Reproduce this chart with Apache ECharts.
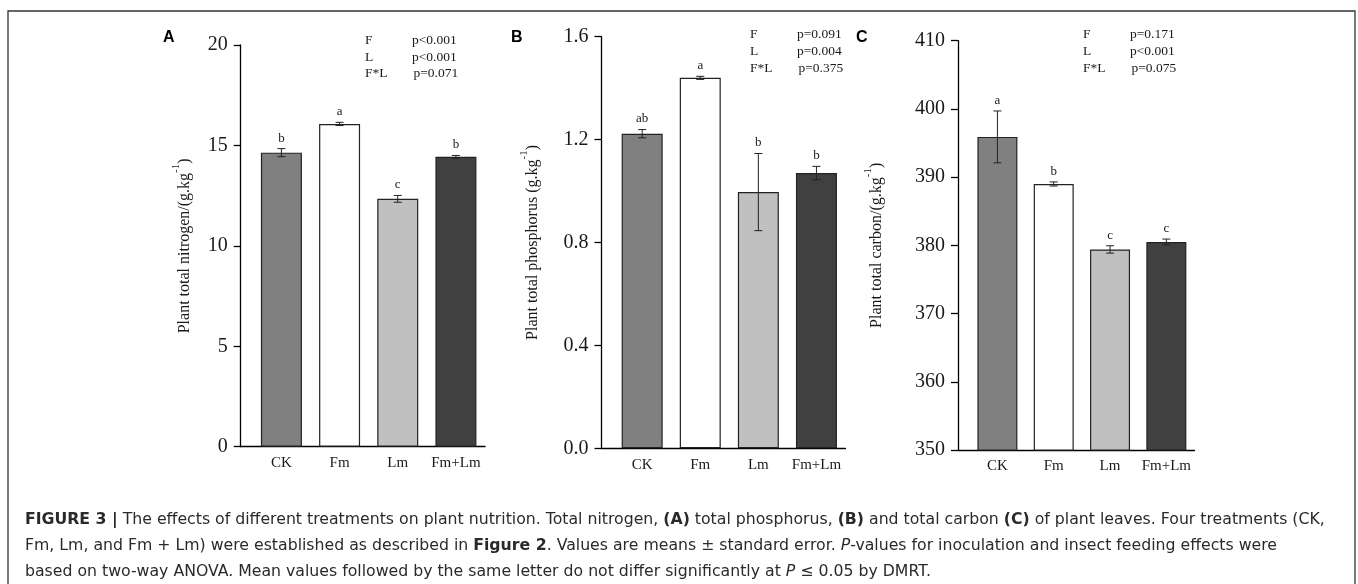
<!DOCTYPE html>
<html>
<head>
<meta charset="utf-8">
<script src="https://cdn.jsdelivr.net/npm/echarts@6/dist/echarts.min.js"></script>
<style>
html,body{margin:0;padding:0;background:#fff;}
#chart{width:1358px;height:584px;}
</style>
</head>
<body>
<div id="chart"></div>
<script>
// ---------- data ----------
const categories = ['CK', 'Fm', 'Lm', 'Fm+Lm'];
const categoryIndex = [0, 1, 2, 3];

const nitrogen = [14.64, 16.07, 12.34, 14.43];
const nitrogenSE = [0.20, 0.08, 0.17, 0.07];
const nitrogenLetters = ['b', 'a', 'c', 'b'];

const phosphorus = [1.223, 1.440, 0.996, 1.070];
const phosphorusSE = [0.016, 0.006, 0.150, 0.026];
const phosphorusLetters = ['ab', 'a', 'b', 'b'];

const carbon = [395.9, 389.0, 379.4, 380.5];
const carbonSE = [3.8, 0.3, 0.54, 0.42];
const carbonLetters = ['a', 'b', 'c', 'c'];

const anovaTerms = ['F', 'L', 'F*L'];
const nitrogenP = ['p<0.001', 'p<0.001', 'p=0.071'];
const phosphorusP = ['p=0.091', 'p=0.004', 'p=0.375'];
const carbonP = ['p=0.171', 'p<0.001', 'p=0.075'];

const panelLetters = ['A', 'B', 'C'];
const yTitles = [
  ['Plant total nitrogen/(g.kg', '-1', ')'],
  ['Plant total phosphorus (g.kg', '-1', ')'],
  ['Plant total carbon/(g.kg', '-1', ')']
];

// ---------- styles ----------
const barColors = ['#808080', '#ffffff', '#c0c0c0', '#404040'];
const SERIF = '"Liberation Serif", "Times New Roman", serif';
const CAPFONT = '"DejaVu Sans", "Liberation Sans", sans-serif';
const INK = '#1a1a1a';

const panels = [
  { values: nitrogen, se: nitrogenSE, letters: nitrogenLetters, pvals: nitrogenP,
    grid: { left: 240.7, top: 45, width: 244.3, height: 401.7 },
    y: { min: 0, max: 20, interval: 5, fmt: v => String(v) },
    barWidth: 41, nameGap: 48,
    letterPos: [170, 39], pX: [365, 412], pY: [40.5, 57, 73.5] },
  { values: phosphorus, se: phosphorusSE, letters: phosphorusLetters, pvals: phosphorusP,
    grid: { left: 601.5, top: 36.7, width: 244, height: 411.6 },
    y: { min: 0, max: 1.6, interval: 0.4, fmt: v => v.toFixed(1) },
    barWidth: 41, nameGap: 61,
    letterPos: [518, 39], pX: [750, 797], pY: [34, 51, 68] },
  { values: carbon, se: carbonSE, letters: carbonLetters, pvals: carbonP,
    grid: { left: 958, top: 40.7, width: 236.5, height: 409.3 },
    y: { min: 350, max: 410, interval: 10, fmt: v => String(v) },
    barWidth: 40, nameGap: 73,
    letterPos: [863, 39], pX: [1083, 1130], pY: [34, 51, 68] }
];

const grids = [], xAxes = [], yAxes = [], series = [], graphics = [];

panels.forEach((p, k) => {
  grids.push(Object.assign({ containLabel: false }, p.grid));
  xAxes.push({
    gridIndex: k, type: 'value', min: -0.7, max: 3.5,
    splitLine: { show: false },
    axisLine: { show: true, onZero: false, lineStyle: { color: '#000', width: 1.3 } },
    axisTick: { show: true, inside: true, length: 7, customValues: categoryIndex,
                lineStyle: { color: '#000', width: 1.3 } },
    axisLabel: { show: true, customValues: categoryIndex, margin: 9,
                 formatter: v => categories[Math.round(v)] || '',
                 fontFamily: SERIF, fontSize: 15, color: INK }
  });
  const t = yTitles[k];
  yAxes.push({
    gridIndex: k, type: 'value', min: p.y.min, max: p.y.max, interval: p.y.interval,
    splitLine: { show: false },
    axisLine: { show: true, onZero: false, lineStyle: { color: '#000', width: 1.3 } },
    axisTick: { show: true, inside: false, length: 7, lineStyle: { color: '#000', width: 1.3 } },
    axisLabel: { margin: 13, fontFamily: SERIF, fontSize: 20, color: INK, formatter: p.y.fmt },
    name: '{a|' + t[0] + '}{s|' + t[1] + '}{a|' + t[2] + '}',
    nameLocation: 'middle', nameGap: p.nameGap, nameRotate: 90,
    nameTextStyle: {
      fontFamily: SERIF, fontSize: 16, color: INK,
      rich: {
        a: { fontFamily: SERIF, fontSize: 16, color: INK, lineHeight: 22, verticalAlign: 'bottom' },
        s: { fontFamily: SERIF, fontSize: 11, color: INK, lineHeight: 22, verticalAlign: 'top' }
      }
    }
  });
  series.push({
    type: 'bar', xAxisIndex: k, yAxisIndex: k,
    data: categoryIndex.map(i => [i, p.values[i]]),
    barWidth: p.barWidth,
    itemStyle: { color: prm => barColors[prm.dataIndex], borderColor: '#222', borderWidth: 1.2 },
    emphasis: { disabled: true },
    z: 2
  });
  series.push({
    type: 'custom', xAxisIndex: k, yAxisIndex: k, z: 4,
    data: categoryIndex.map(i => [i, p.values[i], p.se[i]]),
    renderItem: (params, api) => {
      const x = api.value(0), v = api.value(1), e = api.value(2);
      const top = api.coord([x, v + e]);
      const bot = api.coord([x, v - e]);
      const hw = 4;
      const st = { stroke: '#222', lineWidth: 1 };
      return {
        type: 'group',
        children: [
          { type: 'line', shape: { x1: top[0], y1: top[1], x2: bot[0], y2: bot[1] }, style: st },
          { type: 'line', shape: { x1: top[0] - hw, y1: top[1], x2: top[0] + hw, y2: top[1] }, style: st },
          { type: 'line', shape: { x1: bot[0] - hw, y1: bot[1], x2: bot[0] + hw, y2: bot[1] }, style: st },
          { type: 'text', style: { text: p.letters[params.dataIndex], x: top[0], y: top[1] - 4,
              textAlign: 'center', textVerticalAlign: 'bottom',
              font: '13px ' + SERIF, fill: INK } }
        ]
      };
    }
  });
  graphics.push({
    type: 'text', left: p.letterPos[0] - 7, top: p.letterPos[1] - 9,
    style: { text: panelLetters[k], font: 'bold 16px ' + '"Liberation Sans", Arial, sans-serif', fill: '#000' }
  });
  anovaTerms.forEach((term, r) => {
    graphics.push({ type: 'text', x: p.pX[0], y: p.pY[r],
      style: { text: term, font: '13.5px ' + SERIF, fill: INK, textVerticalAlign: 'middle' } });
    graphics.push({ type: 'text', x: p.pX[1] + (r === 2 ? 1.5 : 0), y: p.pY[r],
      style: { text: p.pvals[r], font: '13.5px ' + SERIF, fill: INK, textVerticalAlign: 'middle' } });
  });
});

graphics.unshift({
  type: 'rect', shape: { x: 8, y: 11, width: 1347, height: 620 },
  style: { fill: 'none', stroke: '#333', lineWidth: 1.3 }, silent: true
});

const captionLines = [
  '{b|FIGURE 3 |} The effects of different treatments on plant nutrition. Total nitrogen, {b|(A)} total phosphorus, {b|(B)} and total carbon {b|(C)} of plant leaves. Four treatments (CK,',
  'Fm, Lm, and Fm + Lm) were established as described in {b|Figure 2}. Values are means \u00b1 standard error. {i|P}-values for inoculation and insect feeding effects were',
  'based on two-way ANOVA. Mean values followed by the same letter do not differ significantly at {i|P} \u2264 0.05 by DMRT.'
];

// fit caption font size so that the first line spans the caption width of the figure
function fitCaptionSize(line, targetWidth) {
  const ctx = document.createElement('canvas').getContext('2d');
  const base = 15;
  let w = 0;
  line.split(/(\{[bi]\|[^}]*\})/).forEach(seg => {
    if (!seg) return;
    const m = seg.match(/^\{([bi])\|([^}]*)\}$/);
    if (m) {
      ctx.font = (m[1] === 'b' ? 'bold ' : 'italic ') + base + 'px ' + CAPFONT;
      w += ctx.measureText(m[2]).width;
    } else {
      ctx.font = base + 'px ' + CAPFONT;
      w += ctx.measureText(seg).width;
    }
  });
  const s = base * targetWidth / w;
  return Math.max(13, Math.min(17, s));
}
const capSize = fitCaptionSize(captionLines[0], 1300);

const option = {
  backgroundColor: '#fff',
  animation: false,
  title: {
    text: captionLines.join('\n'),
    left: 25, top: 507, padding: 0,
    textStyle: {
      fontFamily: CAPFONT, fontSize: capSize, fontWeight: 'normal', color: '#2a2a2a', lineHeight: 26,
      rich: {
        b: { fontFamily: CAPFONT, fontSize: capSize, fontWeight: 'bold', color: '#2a2a2a', lineHeight: 26 },
        i: { fontFamily: CAPFONT, fontSize: capSize, fontStyle: 'italic', color: '#2a2a2a', lineHeight: 26 }
      }
    }
  },
  grid: grids,
  xAxis: xAxes,
  yAxis: yAxes,
  series: series,
  graphic: graphics
};

const chart = echarts.init(document.getElementById('chart'), null, { renderer: 'canvas' });
chart.setOption(option);
</script>
</body>
</html>
